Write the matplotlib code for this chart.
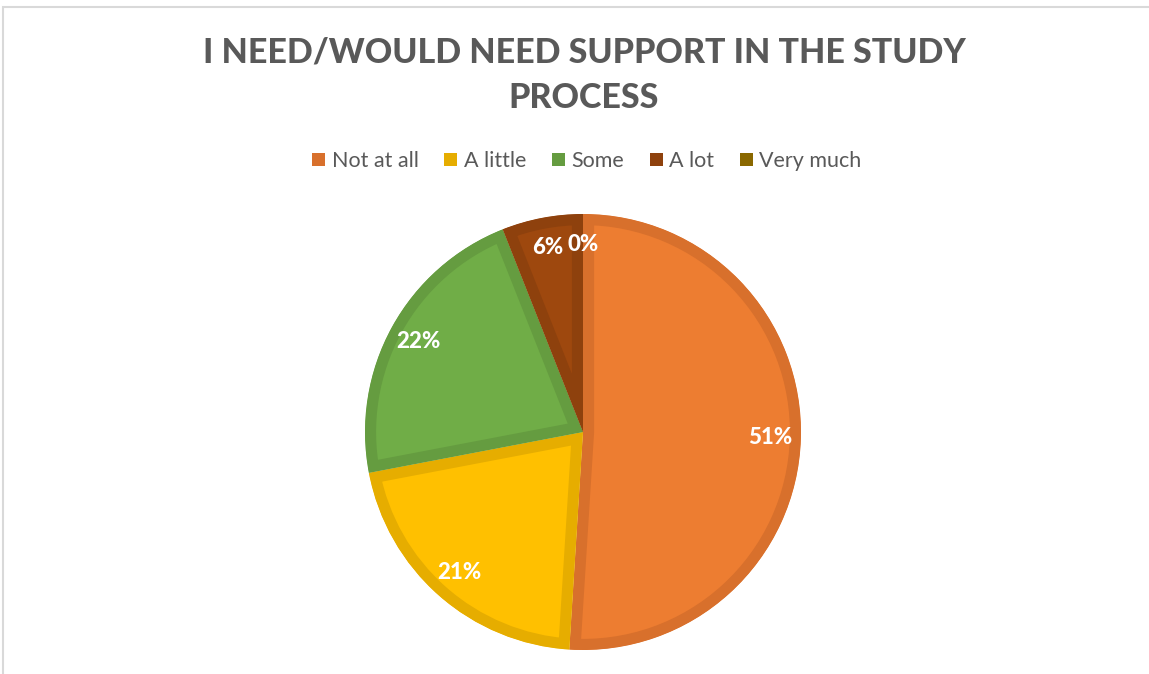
import matplotlib
matplotlib.use("Agg")
from matplotlib import pyplot as plt
from matplotlib.patches import Rectangle, Patch

plt.rcParams['font.family'] = ['Lato', 'DejaVu Sans']

categories = ['Not at all', 'A little', 'Some', 'A lot', 'Very much']
shares = [51, 21, 22, 6, 0]
fill_colors = ['#ED7D31', '#FFC000', '#70AD47', '#9E480E', '#997300']
edge_colors = ['#D8702C', '#E6AD00', '#659C40', '#8E410D', '#8A6800']

W, H = 1149, 674
fig = plt.figure(figsize=(W / 100, H / 100), dpi=100)

# light grey chart-area frame
fig.patches.append(Rectangle((3 / W, -0.1), 1.2, 1 - 7 / H + 0.1,
                             transform=fig.transFigure, fill=False,
                             edgecolor='#D9D9D9', linewidth=1.5))

fig.text(584 / W, 1 - 75 / H, 'I NEED/WOULD NEED SUPPORT IN THE STUDY\nPROCESS',
         ha='center', va='center', fontsize=24.5, fontweight='black',
         color='#595959', linespacing=1.5)

cx, cy, r = 583, 432, 218
ax = fig.add_axes([(cx - r) / W, (H - cy - r) / H, 2 * r / W, 2 * r / H])
wedges, texts, autotexts = ax.pie(
    shares, colors=fill_colors, startangle=90, counterclock=False,
    autopct='%.0f%%', pctdistance=0.86, radius=1,
    textprops=dict(color='white', fontsize=16, fontweight='black'))
# inner border: stroke each wedge and clip it to its own outline
for w, ec, v in zip(wedges, edge_colors, shares):
    w.set_edgecolor(ec)
    w.set_linewidth(16 if v > 0 else 0)
    w.set_clip_path(w)
    w.set_clip_on(True)
ax.set_xlim(-1, 1)
ax.set_ylim(-1, 1)
ax.set_aspect('equal')
ax.axis('off')

handles = [Patch(facecolor=c, edgecolor='none') for c in edge_colors]
fig.legend(handles, categories, loc='center', bbox_to_anchor=(587 / W, 1 - 161 / H),
           ncol=5, frameon=False, fontsize=15.5, handlelength=0.6, handleheight=0.6,
           handletextpad=0.3, columnspacing=1.2, labelcolor='#595959')

fig.savefig('out.png', dpi=100)
